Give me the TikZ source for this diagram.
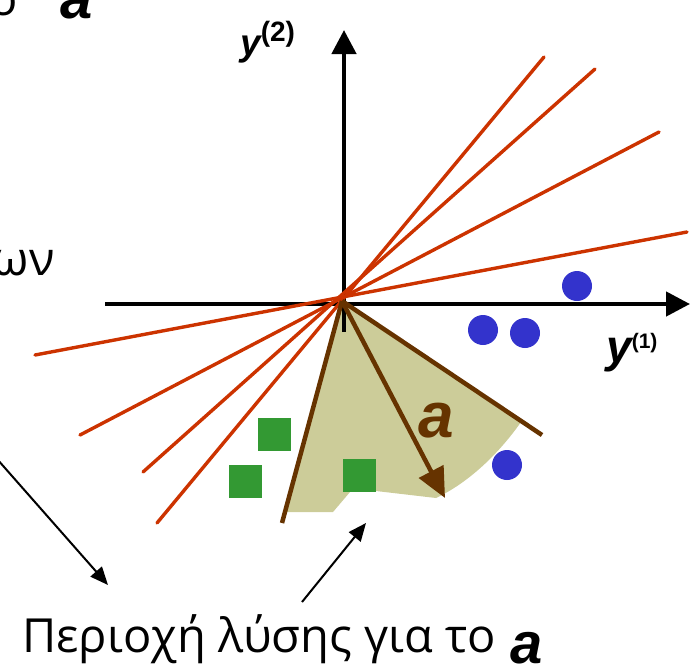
\documentclass[tikz,border=0pt]{standalone}
\usepackage{fontspec}
\setmainfont{Open Sans}
\newfontfamily\lib{Liberation Sans}
\usetikzlibrary{arrows.meta}
\definecolor{tanc}{HTML}{CCCC99}
\definecolor{brownc}{HTML}{663300}
\definecolor{redc}{HTML}{CC3300}
\definecolor{greenc}{HTML}{339933}
\definecolor{bluec}{HTML}{3333CC}
\tikzset{
  axis/.style={line width=4.5pt,-{Triangle[length=24pt,width=24pt]}},
  redline/.style={redc,line width=3.4pt,line cap=round},
  brownline/.style={brownc,line width=4.5pt},
  sq/.style={fill=greenc,minimum size=33pt,inner sep=0pt,draw=none},
  dot/.style={circle,fill=bluec,minimum size=30pt,inner sep=0pt,draw=none},
  annot/.style={line width=2pt,-{Triangle[length=18pt,width=15pt]}},
  big/.style={font=\fontsize{47}{53}\selectfont,inner sep=0pt},
  bolda/.style={font=\lib\bfseries\itshape\fontsize{58}{60}\selectfont,inner sep=0pt},
}
\begin{document}
\begin{tikzpicture}[x=1pt,y=-1pt]
\useasboundingbox (0,0) rectangle (693,667);
\clip (0,0) rectangle (693,667);
\coordinate (O) at (342,301);
% solution region
\fill[tanc] (O) -- (286,512) -- (333,512) -- (350,492) -- (376,491) -- (436,498)
  .. controls (470,482) and (500,452) .. (521,422) -- cycle;
% axes
\coordinate (vb) at (344,332);
\coordinate (vt) at (344,30);
\coordinate (hl) at (105,304);
\coordinate (hr) at (690,304);
\draw[axis] (vb) -- (vt);
\draw[axis] (hl) -- (hr);
% red lines
\coordinate (r1a) at (544,57);  \coordinate (r1b) at (157,523);
\coordinate (r2a) at (595,69);  \coordinate (r2b) at (143,472);
\coordinate (r3a) at (659,132); \coordinate (r3b) at (80,435);
\coordinate (r4a) at (687,232); \coordinate (r4b) at (35,355);
\draw[redline] (r1b) -- (r1a);
\draw[redline] (r2b) -- (r2a);
\draw[redline] (r3b) -- (r3a);
\draw[redline] (r4b) -- (r4a);
% brown lines and vector a
\coordinate (bl) at (282,523);
\coordinate (br) at (542,435);
\coordinate (at) at (445,498);
\draw[brownline] (O) -- (bl);
\draw[brownline] (O) -- (br);
\draw[brownline,-{Triangle[length=30pt,width=27pt]}] (O) -- (at);
% squares
\node[sq] (s1) at (274,434) {};
\node[sq] (s2) at (245,481) {};
\node[sq] (s3) at (359,475) {};
% circles
\node[dot] (d1) at (577,286) {};
\node[dot] (d2) at (483,330) {};
\node[dot] (d3) at (525,333) {};
\node[dot] (d4) at (507,465) {};
% labels
\node[anchor=base west,inner sep=0pt,font=\lib\bfseries\itshape\fontsize{37}{40}\selectfont] (y2) at (240,55)
  {y\raisebox{14pt}{\upshape\fontsize{28}{28}\selectfont(2)}};
\node[anchor=base west,inner sep=0pt,font=\lib\bfseries\itshape\fontsize{46}{48}\selectfont] (y1) at (606,362)
  {y\raisebox{14pt}{\upshape\fontsize{21}{21}\selectfont(1)}};
\node[bolda,brownc,anchor=base west,font=\lib\bfseries\itshape\fontsize{64}{66}\selectfont] (alab) at (418,437) {a};
% texts
\node[big,anchor=base east] (topo) at (18,15) {ο};
\node[bolda,anchor=base west] (topa) at (60,18) {a};
\node[big,anchor=base east] (omega) at (55,275) {ων};
\node[big,anchor=base west] (region) at (22,652) {Περιοχή λύσης για το};
\node[bolda,anchor=base west] (rega) at (510,663) {a};
% annotation arrows
\coordinate (p1s) at (-10,451);
\coordinate (p1e) at (108,585);
\coordinate (p2s) at (302,602);
\coordinate (p2e) at (366,523);
\draw[annot] (p1s) -- (p1e);
\draw[annot] (p2s) -- (p2e);
\end{tikzpicture}
\end{document}
